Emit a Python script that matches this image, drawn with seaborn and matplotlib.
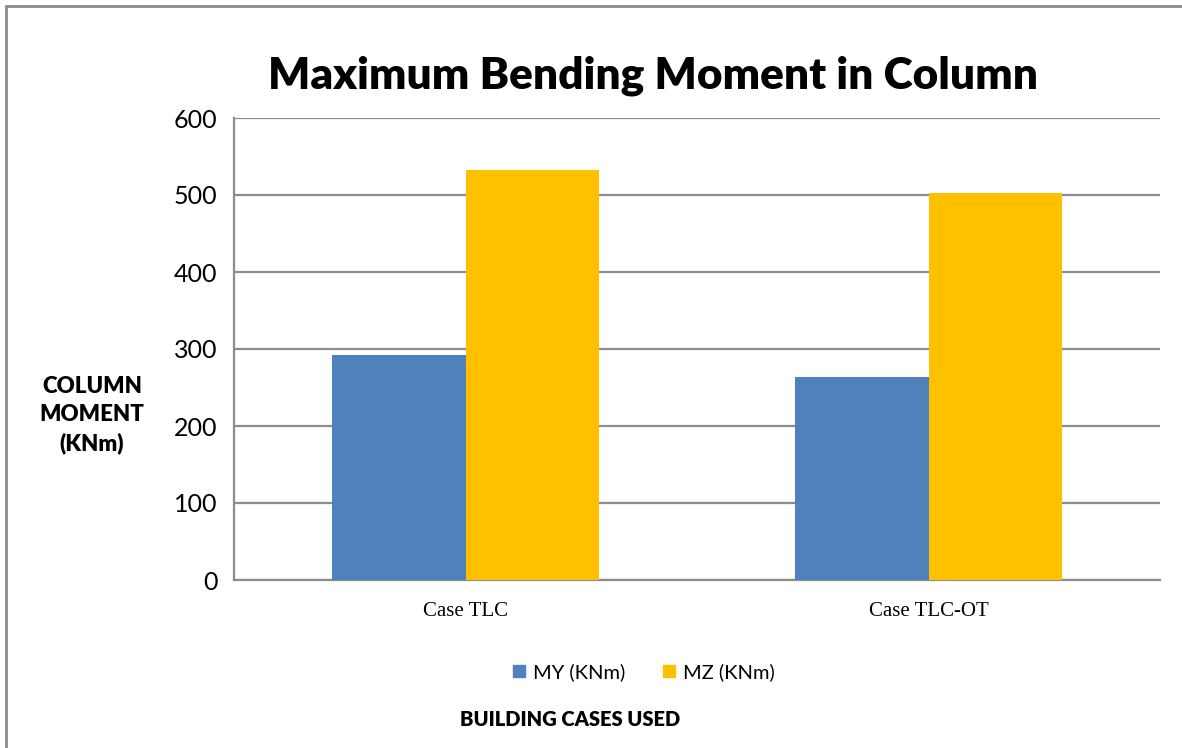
import matplotlib
matplotlib.use("Agg")
import matplotlib.pyplot as plt
from matplotlib.lines import Line2D
import pandas as pd
import seaborn as sns

# chart data
cases = ["Case TLC", "Case TLC-OT"]
series = ["MY (KNm)", "MZ (KNm)"]
my_values = [292, 263]
mz_values = [532, 502]
colors = ["#4F81BD", "#FFC000"]

df = pd.DataFrame({
    "case": cases * 2,
    "series": [series[0]] * 2 + [series[1]] * 2,
    "moment": my_values + mz_values,
})

sns.set_theme(style="white")
plt.rcParams["font.family"] = ["Lato", "DejaVu Sans"]
plt.rcParams["text.color"] = "black"
plt.rcParams["xtick.color"] = "black"
plt.rcParams["ytick.color"] = "black"

fig = plt.figure(figsize=(11.82, 7.48), dpi=100)
ax = fig.add_axes([234 / 1182, 1 - 580 / 748, (1160 - 234) / 1182, (580 - 118) / 748])

sns.barplot(data=df, x="case", y="moment", hue="series", palette=colors,
            width=0.575, saturation=1, ax=ax, legend=False, zorder=3,
            linewidth=0)

ax.set_ylim(0, 600)
ax.set_yticks(range(0, 601, 100))
ax.grid(axis="y", color="#8c8c8c", linewidth=1.6, zorder=0)
ax.set_axisbelow(True)
for s in ["top", "right"]:
    ax.spines[s].set_visible(False)
for s in ["left", "bottom"]:
    ax.spines[s].set_color("#8c8c8c")
    ax.spines[s].set_linewidth(1.6)
ax.tick_params(axis="both", length=0)
ax.tick_params(axis="y", labelsize=18, pad=12, labelcolor="black")
ax.tick_params(axis="x", pad=16, labelcolor="black")
for lbl in ax.get_xticklabels():
    lbl.set_fontfamily("Liberation Serif")
    lbl.set_fontsize(15)
ax.set_xlabel("")
ax.set_ylabel("")

fig.text(653 / 1182, 1 - 76 / 748, "Maximum Bending Moment in Column",
         ha="center", va="center", fontsize=31.8, fontweight="heavy", color="black")
fig.text(92 / 1182, 1 - 415 / 748, "COLUMN\nMOMENT\n(KNm)", ha="center",
         va="center", fontsize=16, fontweight="heavy", linespacing=1.4, color="black")
fig.text(570 / 1182, 1 - 719 / 748, "BUILDING CASES USED", ha="center",
         va="center", fontsize=14.5, fontweight="heavy", color="black")

handles = [plt.Rectangle((0, 0), 1, 1, color=c) for c in colors]
fig.legend(handles, series, loc="center", bbox_to_anchor=(644 / 1182, 1 - 672 / 748),
           ncol=2, frameon=False, fontsize=14.5, handlelength=0.58, handleheight=0.58,
           handletextpad=0.4, columnspacing=1.9, labelcolor="black")

# outer chart border (only top and left visible in the crop)
fig.add_artist(Line2D([6 / 1182, 6 / 1182], [0, 1 - 6 / 748], transform=fig.transFigure,
                      color="#8c8c8c", linewidth=2))
fig.add_artist(Line2D([6 / 1182, 1], [1 - 6 / 748, 1 - 6 / 748], transform=fig.transFigure,
                      color="#8c8c8c", linewidth=2))

fig.savefig("out.png", dpi=100)
